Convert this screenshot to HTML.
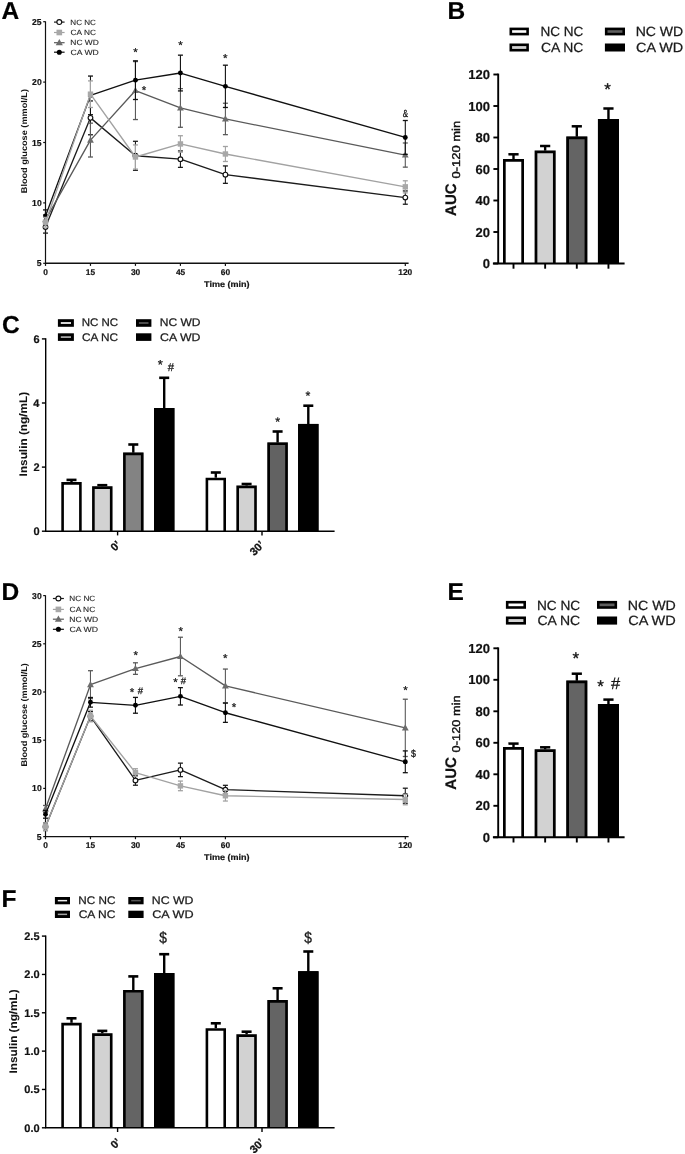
<!DOCTYPE html><html><head><meta charset="utf-8"><style>html,body{margin:0;padding:0;background:#fff;overflow:hidden;}svg{display:block;will-change:transform;}text{text-rendering:geometricPrecision;font-family:"Liberation Sans", sans-serif;}</style></head><body>
<svg width="685" height="1154" viewBox="0 0 685 1154">
<rect x="0" y="0" width="685" height="1154" fill="#fff"/>
<text transform="translate(1.59 18.60)" font-size="24.5" font-weight="bold" fill="#000" stroke="#000" stroke-width="0.200">A</text>
<line x1="45.50" y1="21.40" x2="45.50" y2="263.30" stroke="#111" stroke-width="1.2"/>
<line x1="43.20" y1="263.30" x2="45.50" y2="263.30" stroke="#111" stroke-width="1.2"/>
<text transform="translate(36.76 266.35)" font-size="8.6" font-weight="bold" fill="#141414" stroke="#141414" stroke-width="0.200">5</text>
<line x1="43.20" y1="202.90" x2="45.50" y2="202.90" stroke="#111" stroke-width="1.2"/>
<text transform="translate(32.10 205.95)" font-size="8.6" font-weight="bold" fill="#141414" stroke="#141414" stroke-width="0.200">10</text>
<line x1="43.20" y1="142.50" x2="45.50" y2="142.50" stroke="#111" stroke-width="1.2"/>
<text transform="translate(31.99 145.55)" font-size="8.6" font-weight="bold" fill="#141414" stroke="#141414" stroke-width="0.200">15</text>
<line x1="43.20" y1="82.10" x2="45.50" y2="82.10" stroke="#111" stroke-width="1.2"/>
<text transform="translate(32.10 85.15)" font-size="8.6" font-weight="bold" fill="#141414" stroke="#141414" stroke-width="0.200">20</text>
<line x1="43.20" y1="21.70" x2="45.50" y2="21.70" stroke="#111" stroke-width="1.2"/>
<text transform="translate(31.99 24.75)" font-size="8.6" font-weight="bold" fill="#141414" stroke="#141414" stroke-width="0.200">25</text>
<line x1="45.00" y1="263.30" x2="408.60" y2="263.30" stroke="#111" stroke-width="1.4"/>
<line x1="45.50" y1="263.30" x2="45.50" y2="265.90" stroke="#111" stroke-width="1.2"/>
<text transform="translate(43.27 274.80)" font-size="8.4" font-weight="bold" fill="#141414" stroke="#141414" stroke-width="0.200">0</text>
<line x1="90.47" y1="263.30" x2="90.47" y2="265.90" stroke="#111" stroke-width="1.2"/>
<text transform="translate(85.77 274.80)" font-size="8.4" font-weight="bold" fill="#141414" stroke="#141414" stroke-width="0.200">15</text>
<line x1="135.45" y1="263.30" x2="135.45" y2="265.90" stroke="#111" stroke-width="1.2"/>
<text transform="translate(130.96 274.80)" font-size="8.4" font-weight="bold" fill="#141414" stroke="#141414" stroke-width="0.200">30</text>
<line x1="180.43" y1="263.30" x2="180.43" y2="265.90" stroke="#111" stroke-width="1.2"/>
<text transform="translate(175.92 274.80)" font-size="8.4" font-weight="bold" fill="#141414" stroke="#141414" stroke-width="0.200">45</text>
<line x1="225.40" y1="263.30" x2="225.40" y2="265.90" stroke="#111" stroke-width="1.2"/>
<text transform="translate(220.85 274.80)" font-size="8.4" font-weight="bold" fill="#141414" stroke="#141414" stroke-width="0.200">60</text>
<line x1="405.30" y1="263.30" x2="405.30" y2="265.90" stroke="#111" stroke-width="1.2"/>
<text transform="translate(398.30 274.80)" font-size="8.4" font-weight="bold" fill="#141414" stroke="#141414" stroke-width="0.200">120</text>
<text transform="translate(204.01 286.50) scale(1.0811 1)" font-size="8.4" font-weight="bold" fill="#141414" stroke="#141414" stroke-width="0.200">Time (min)</text>
<text transform="translate(26.80 192.60) rotate(-90) translate(-0.62 0) scale(1.0922 1)" font-size="8.4" font-weight="bold" fill="#141414">Blood glucose (mmol/L)</text>
<line x1="45.50" y1="221.02" x2="45.50" y2="233.10" stroke="#1c1c1c" stroke-width="1.1"/>
<line x1="43.00" y1="221.02" x2="48.00" y2="221.02" stroke="#1c1c1c" stroke-width="1.3"/>
<line x1="43.00" y1="233.10" x2="48.00" y2="233.10" stroke="#1c1c1c" stroke-width="1.3"/>
<line x1="90.47" y1="100.94" x2="90.47" y2="134.77" stroke="#1c1c1c" stroke-width="1.1"/>
<line x1="87.97" y1="100.94" x2="92.97" y2="100.94" stroke="#1c1c1c" stroke-width="1.3"/>
<line x1="87.97" y1="134.77" x2="92.97" y2="134.77" stroke="#1c1c1c" stroke-width="1.3"/>
<line x1="135.45" y1="141.29" x2="135.45" y2="170.28" stroke="#1c1c1c" stroke-width="1.1"/>
<line x1="132.95" y1="141.29" x2="137.95" y2="141.29" stroke="#1c1c1c" stroke-width="1.3"/>
<line x1="132.95" y1="170.28" x2="137.95" y2="170.28" stroke="#1c1c1c" stroke-width="1.3"/>
<line x1="180.43" y1="150.96" x2="180.43" y2="167.38" stroke="#1c1c1c" stroke-width="1.1"/>
<line x1="177.93" y1="150.96" x2="182.93" y2="150.96" stroke="#1c1c1c" stroke-width="1.3"/>
<line x1="177.93" y1="167.38" x2="182.93" y2="167.38" stroke="#1c1c1c" stroke-width="1.3"/>
<line x1="225.40" y1="165.94" x2="225.40" y2="183.33" stroke="#1c1c1c" stroke-width="1.1"/>
<line x1="222.90" y1="165.94" x2="227.90" y2="165.94" stroke="#1c1c1c" stroke-width="1.3"/>
<line x1="222.90" y1="183.33" x2="227.90" y2="183.33" stroke="#1c1c1c" stroke-width="1.3"/>
<line x1="405.30" y1="190.94" x2="405.30" y2="204.23" stroke="#1c1c1c" stroke-width="1.1"/>
<line x1="402.80" y1="190.94" x2="407.80" y2="190.94" stroke="#1c1c1c" stroke-width="1.3"/>
<line x1="402.80" y1="204.23" x2="407.80" y2="204.23" stroke="#1c1c1c" stroke-width="1.3"/>
<polyline points="45.50,227.06 90.47,117.86 135.45,155.79 180.43,159.17 225.40,174.63 405.30,197.58" fill="none" stroke="#1c1c1c" stroke-width="1.35" stroke-linejoin="round"/>
<circle cx="45.50" cy="227.06" r="2.35" fill="#fff" stroke="#111" stroke-width="1.15"/>
<circle cx="90.47" cy="117.86" r="2.35" fill="#fff" stroke="#111" stroke-width="1.15"/>
<circle cx="135.45" cy="155.79" r="2.35" fill="#fff" stroke="#111" stroke-width="1.15"/>
<circle cx="180.43" cy="159.17" r="2.35" fill="#fff" stroke="#111" stroke-width="1.15"/>
<circle cx="225.40" cy="174.63" r="2.35" fill="#fff" stroke="#111" stroke-width="1.15"/>
<circle cx="405.30" cy="197.58" r="2.35" fill="#fff" stroke="#111" stroke-width="1.15"/>
<line x1="45.50" y1="214.98" x2="45.50" y2="224.64" stroke="#5a5a5a" stroke-width="1.1"/>
<line x1="43.00" y1="214.98" x2="48.00" y2="214.98" stroke="#5a5a5a" stroke-width="1.3"/>
<line x1="43.00" y1="224.64" x2="48.00" y2="224.64" stroke="#5a5a5a" stroke-width="1.3"/>
<line x1="90.47" y1="123.17" x2="90.47" y2="157.00" stroke="#5a5a5a" stroke-width="1.1"/>
<line x1="87.97" y1="123.17" x2="92.97" y2="123.17" stroke="#5a5a5a" stroke-width="1.3"/>
<line x1="87.97" y1="157.00" x2="92.97" y2="157.00" stroke="#5a5a5a" stroke-width="1.3"/>
<line x1="135.45" y1="61.56" x2="135.45" y2="119.55" stroke="#5a5a5a" stroke-width="1.1"/>
<line x1="132.95" y1="61.56" x2="137.95" y2="61.56" stroke="#5a5a5a" stroke-width="1.3"/>
<line x1="132.95" y1="119.55" x2="137.95" y2="119.55" stroke="#5a5a5a" stroke-width="1.3"/>
<line x1="180.43" y1="88.62" x2="180.43" y2="127.28" stroke="#5a5a5a" stroke-width="1.1"/>
<line x1="177.93" y1="88.62" x2="182.93" y2="88.62" stroke="#5a5a5a" stroke-width="1.3"/>
<line x1="177.93" y1="127.28" x2="182.93" y2="127.28" stroke="#5a5a5a" stroke-width="1.3"/>
<line x1="225.40" y1="103.24" x2="225.40" y2="134.65" stroke="#5a5a5a" stroke-width="1.1"/>
<line x1="222.90" y1="103.24" x2="227.90" y2="103.24" stroke="#5a5a5a" stroke-width="1.3"/>
<line x1="222.90" y1="134.65" x2="227.90" y2="134.65" stroke="#5a5a5a" stroke-width="1.3"/>
<line x1="405.30" y1="142.98" x2="405.30" y2="167.14" stroke="#5a5a5a" stroke-width="1.1"/>
<line x1="402.80" y1="142.98" x2="407.80" y2="142.98" stroke="#5a5a5a" stroke-width="1.3"/>
<line x1="402.80" y1="167.14" x2="407.80" y2="167.14" stroke="#5a5a5a" stroke-width="1.3"/>
<polyline points="45.50,219.81 90.47,140.08 135.45,90.56 180.43,107.95 225.40,118.94 405.30,155.06" fill="none" stroke="#5a5a5a" stroke-width="1.35" stroke-linejoin="round"/>
<polygon points="45.50,216.24 48.90,222.36 42.10,222.36" fill="#6c6c6c"/>
<polygon points="90.47,136.51 93.88,142.63 87.07,142.63" fill="#6c6c6c"/>
<polygon points="135.45,86.99 138.85,93.11 132.05,93.11" fill="#6c6c6c"/>
<polygon points="180.43,104.38 183.83,110.50 177.03,110.50" fill="#6c6c6c"/>
<polygon points="225.40,115.37 228.80,121.49 222.00,121.49" fill="#6c6c6c"/>
<polygon points="405.30,151.49 408.70,157.61 401.90,157.61" fill="#6c6c6c"/>
<line x1="45.50" y1="209.91" x2="45.50" y2="221.99" stroke="#111111" stroke-width="1.1"/>
<line x1="43.00" y1="209.91" x2="48.00" y2="209.91" stroke="#111111" stroke-width="1.3"/>
<line x1="43.00" y1="221.99" x2="48.00" y2="221.99" stroke="#111111" stroke-width="1.3"/>
<line x1="90.47" y1="76.06" x2="90.47" y2="114.72" stroke="#111111" stroke-width="1.1"/>
<line x1="87.97" y1="76.06" x2="92.97" y2="76.06" stroke="#111111" stroke-width="1.3"/>
<line x1="87.97" y1="114.72" x2="92.97" y2="114.72" stroke="#111111" stroke-width="1.3"/>
<line x1="135.45" y1="60.84" x2="135.45" y2="99.50" stroke="#111111" stroke-width="1.1"/>
<line x1="132.95" y1="60.84" x2="137.95" y2="60.84" stroke="#111111" stroke-width="1.3"/>
<line x1="132.95" y1="99.50" x2="137.95" y2="99.50" stroke="#111111" stroke-width="1.3"/>
<line x1="180.43" y1="55.16" x2="180.43" y2="90.92" stroke="#111111" stroke-width="1.1"/>
<line x1="177.93" y1="55.16" x2="182.93" y2="55.16" stroke="#111111" stroke-width="1.3"/>
<line x1="177.93" y1="90.92" x2="182.93" y2="90.92" stroke="#111111" stroke-width="1.3"/>
<line x1="225.40" y1="65.19" x2="225.40" y2="107.47" stroke="#111111" stroke-width="1.1"/>
<line x1="222.90" y1="65.19" x2="227.90" y2="65.19" stroke="#111111" stroke-width="1.3"/>
<line x1="222.90" y1="107.47" x2="227.90" y2="107.47" stroke="#111111" stroke-width="1.3"/>
<line x1="405.30" y1="120.51" x2="405.30" y2="154.34" stroke="#111111" stroke-width="1.1"/>
<line x1="402.80" y1="120.51" x2="407.80" y2="120.51" stroke="#111111" stroke-width="1.3"/>
<line x1="402.80" y1="154.34" x2="407.80" y2="154.34" stroke="#111111" stroke-width="1.3"/>
<polyline points="45.50,215.95 90.47,95.39 135.45,80.17 180.43,73.04 225.40,86.33 405.30,137.43" fill="none" stroke="#111111" stroke-width="1.35" stroke-linejoin="round"/>
<circle cx="45.50" cy="215.95" r="2.45" fill="#000"/>
<circle cx="90.47" cy="95.39" r="2.45" fill="#000"/>
<circle cx="135.45" cy="80.17" r="2.45" fill="#000"/>
<circle cx="180.43" cy="73.04" r="2.45" fill="#000"/>
<circle cx="225.40" cy="86.33" r="2.45" fill="#000"/>
<circle cx="405.30" cy="137.43" r="2.45" fill="#000"/>
<line x1="45.50" y1="217.40" x2="45.50" y2="227.06" stroke="#a2a2a2" stroke-width="1.1"/>
<line x1="43.00" y1="217.40" x2="48.00" y2="217.40" stroke="#a2a2a2" stroke-width="1.3"/>
<line x1="43.00" y1="227.06" x2="48.00" y2="227.06" stroke="#a2a2a2" stroke-width="1.3"/>
<line x1="90.47" y1="80.89" x2="90.47" y2="107.47" stroke="#a2a2a2" stroke-width="1.1"/>
<line x1="87.97" y1="80.89" x2="92.97" y2="80.89" stroke="#a2a2a2" stroke-width="1.3"/>
<line x1="87.97" y1="107.47" x2="92.97" y2="107.47" stroke="#a2a2a2" stroke-width="1.3"/>
<line x1="135.45" y1="144.92" x2="135.45" y2="169.08" stroke="#a2a2a2" stroke-width="1.1"/>
<line x1="132.95" y1="144.92" x2="137.95" y2="144.92" stroke="#a2a2a2" stroke-width="1.3"/>
<line x1="132.95" y1="169.08" x2="137.95" y2="169.08" stroke="#a2a2a2" stroke-width="1.3"/>
<line x1="180.43" y1="135.74" x2="180.43" y2="152.16" stroke="#a2a2a2" stroke-width="1.1"/>
<line x1="177.93" y1="135.74" x2="182.93" y2="135.74" stroke="#a2a2a2" stroke-width="1.3"/>
<line x1="177.93" y1="152.16" x2="182.93" y2="152.16" stroke="#a2a2a2" stroke-width="1.3"/>
<line x1="225.40" y1="146.49" x2="225.40" y2="161.47" stroke="#a2a2a2" stroke-width="1.1"/>
<line x1="222.90" y1="146.49" x2="227.90" y2="146.49" stroke="#a2a2a2" stroke-width="1.3"/>
<line x1="222.90" y1="161.47" x2="227.90" y2="161.47" stroke="#a2a2a2" stroke-width="1.3"/>
<line x1="405.30" y1="180.79" x2="405.30" y2="192.87" stroke="#a2a2a2" stroke-width="1.1"/>
<line x1="402.80" y1="180.79" x2="407.80" y2="180.79" stroke="#a2a2a2" stroke-width="1.3"/>
<line x1="402.80" y1="192.87" x2="407.80" y2="192.87" stroke="#a2a2a2" stroke-width="1.3"/>
<polyline points="45.50,222.23 90.47,94.18 135.45,157.00 180.43,143.95 225.40,153.98 405.30,186.83" fill="none" stroke="#a2a2a2" stroke-width="1.35" stroke-linejoin="round"/>
<rect x="42.80" y="219.53" width="5.40" height="5.40" fill="#a8a8a8"/>
<rect x="87.77" y="91.48" width="5.40" height="5.40" fill="#a8a8a8"/>
<rect x="132.75" y="154.30" width="5.40" height="5.40" fill="#a8a8a8"/>
<rect x="177.73" y="141.25" width="5.40" height="5.40" fill="#a8a8a8"/>
<rect x="222.70" y="151.28" width="5.40" height="5.40" fill="#a8a8a8"/>
<rect x="402.60" y="184.13" width="5.40" height="5.40" fill="#a8a8a8"/>
<line x1="54.00" y1="22.10" x2="64.60" y2="22.10" stroke="#1c1c1c" stroke-width="1.2"/>
<circle cx="59.30" cy="22.10" r="2.44" fill="#fff" stroke="#111" stroke-width="1.15"/>
<text transform="translate(70.33 24.60) scale(1.0630 1)" font-size="7.6" font-weight="normal" fill="#262626" stroke="#262626" stroke-width="0.120">NC NC</text>
<line x1="54.00" y1="32.50" x2="64.60" y2="32.50" stroke="#a2a2a2" stroke-width="1.2"/>
<rect x="56.49" y="29.69" width="5.62" height="5.62" fill="#a8a8a8"/>
<text transform="translate(70.59 35.00) scale(1.0908 1)" font-size="7.6" font-weight="normal" fill="#262626" stroke="#262626" stroke-width="0.120">CA NC</text>
<line x1="54.00" y1="42.70" x2="64.60" y2="42.70" stroke="#5a5a5a" stroke-width="1.2"/>
<polygon points="59.30,38.99 62.84,45.35 55.76,45.35" fill="#6c6c6c"/>
<text transform="translate(70.31 45.20) scale(1.1068 1)" font-size="7.6" font-weight="normal" fill="#262626" stroke="#262626" stroke-width="0.120">NC WD</text>
<line x1="54.00" y1="52.20" x2="64.60" y2="52.20" stroke="#111111" stroke-width="1.2"/>
<circle cx="59.30" cy="52.20" r="2.55" fill="#000"/>
<text transform="translate(70.57 54.70) scale(1.1337 1)" font-size="7.6" font-weight="normal" fill="#262626" stroke="#262626" stroke-width="0.120">CA WD</text>
<text transform="translate(133.26 55.79)" font-size="11.5" font-weight="normal" fill="#141414" stroke="#141414" stroke-width="0.230">*</text>
<text transform="translate(178.36 48.79)" font-size="11.5" font-weight="normal" fill="#141414" stroke="#141414" stroke-width="0.230">*</text>
<text transform="translate(222.96 62.49)" font-size="11.5" font-weight="normal" fill="#141414" stroke="#141414" stroke-width="0.230">*</text>
<text transform="translate(141.76 93.79)" font-size="11.5" font-weight="normal" fill="#141414" stroke="#141414" stroke-width="0.230">*</text>
<text transform="translate(402.67 116.50) scale(0.7630 1)" font-size="10.4" font-weight="normal" fill="#141414" stroke="#141414" stroke-width="0.328">&amp;</text>
<text transform="translate(447.55 18.60)" font-size="24.5" font-weight="bold" fill="#000" stroke="#000" stroke-width="0.200">B</text>
<rect x="510.80" y="28.90" width="16.80" height="5.20" fill="#ffffff" stroke="#000" stroke-width="2.6"/>
<text transform="translate(540.48 35.80) scale(1.0122 1)" font-size="13.4" font-weight="normal" fill="#1a1a1a" stroke="#1a1a1a" stroke-width="0.250">NC NC</text>
<rect x="510.80" y="44.80" width="16.80" height="5.40" fill="#d2d2d2" stroke="#000" stroke-width="2.6"/>
<text transform="translate(540.90 51.80) scale(1.0386 1)" font-size="13.4" font-weight="normal" fill="#1a1a1a" stroke="#1a1a1a" stroke-width="0.250">CA NC</text>
<rect x="606.20" y="28.90" width="17.50" height="5.20" fill="#5e5e5e" stroke="#000" stroke-width="2.6"/>
<text transform="translate(635.64 35.80) scale(1.0492 1)" font-size="13.4" font-weight="normal" fill="#1a1a1a" stroke="#1a1a1a" stroke-width="0.250">NC WD</text>
<rect x="606.20" y="44.80" width="17.50" height="5.40" fill="#000000" stroke="#000" stroke-width="2.6"/>
<text transform="translate(636.08 51.80) scale(1.0748 1)" font-size="13.4" font-weight="normal" fill="#1a1a1a" stroke="#1a1a1a" stroke-width="0.250">CA WD</text>
<line x1="498.20" y1="73.60" x2="498.20" y2="263.50" stroke="#000" stroke-width="1.9"/>
<line x1="493.40" y1="263.50" x2="498.20" y2="263.50" stroke="#000" stroke-width="1.9"/>
<text transform="translate(482.70 268.10)" font-size="13.0" font-weight="bold" fill="#111" stroke="#111" stroke-width="0.200">0</text>
<line x1="493.40" y1="232.00" x2="498.20" y2="232.00" stroke="#000" stroke-width="1.9"/>
<text transform="translate(475.49 236.60)" font-size="13.0" font-weight="bold" fill="#111" stroke="#111" stroke-width="0.200">20</text>
<line x1="493.40" y1="200.50" x2="498.20" y2="200.50" stroke="#000" stroke-width="1.9"/>
<text transform="translate(475.49 205.10)" font-size="13.0" font-weight="bold" fill="#111" stroke="#111" stroke-width="0.200">40</text>
<line x1="493.40" y1="169.00" x2="498.20" y2="169.00" stroke="#000" stroke-width="1.9"/>
<text transform="translate(475.49 173.60)" font-size="13.0" font-weight="bold" fill="#111" stroke="#111" stroke-width="0.200">60</text>
<line x1="493.40" y1="137.50" x2="498.20" y2="137.50" stroke="#000" stroke-width="1.9"/>
<text transform="translate(475.49 142.10)" font-size="13.0" font-weight="bold" fill="#111" stroke="#111" stroke-width="0.200">80</text>
<line x1="493.40" y1="106.00" x2="498.20" y2="106.00" stroke="#000" stroke-width="1.9"/>
<text transform="translate(468.24 110.60)" font-size="13.0" font-weight="bold" fill="#111" stroke="#111" stroke-width="0.200">100</text>
<line x1="493.40" y1="74.50" x2="498.20" y2="74.50" stroke="#000" stroke-width="1.9"/>
<text transform="translate(468.24 79.10)" font-size="13.0" font-weight="bold" fill="#111" stroke="#111" stroke-width="0.200">120</text>
<line x1="513.50" y1="263.50" x2="513.50" y2="268.70" stroke="#000" stroke-width="1.9"/>
<line x1="513.50" y1="160.00" x2="513.50" y2="154.30" stroke="#000" stroke-width="2.4"/>
<line x1="508.40" y1="154.30" x2="518.60" y2="154.30" stroke="#000" stroke-width="2.5"/>
<rect x="503.00" y="159.00" width="21.00" height="104.50" fill="#ffffff"/>
<path d="M504.35 263.50V160.35H522.65V263.50" fill="none" stroke="#000" stroke-width="2.7" stroke-linejoin="miter"/>
<line x1="545.15" y1="263.50" x2="545.15" y2="268.70" stroke="#000" stroke-width="1.9"/>
<line x1="545.15" y1="151.60" x2="545.15" y2="146.00" stroke="#000" stroke-width="2.4"/>
<line x1="540.05" y1="146.00" x2="550.25" y2="146.00" stroke="#000" stroke-width="2.5"/>
<rect x="534.65" y="150.60" width="21.00" height="112.90" fill="#d2d2d2"/>
<path d="M536.00 263.50V151.95H554.30V263.50" fill="none" stroke="#000" stroke-width="2.7" stroke-linejoin="miter"/>
<line x1="576.80" y1="263.50" x2="576.80" y2="268.70" stroke="#000" stroke-width="1.9"/>
<line x1="576.80" y1="137.50" x2="576.80" y2="126.30" stroke="#000" stroke-width="2.4"/>
<line x1="571.70" y1="126.30" x2="581.90" y2="126.30" stroke="#000" stroke-width="2.5"/>
<rect x="566.30" y="136.50" width="21.00" height="127.00" fill="#646464"/>
<path d="M567.65 263.50V137.85H585.95V263.50" fill="none" stroke="#000" stroke-width="2.7" stroke-linejoin="miter"/>
<line x1="608.45" y1="263.50" x2="608.45" y2="268.70" stroke="#000" stroke-width="1.9"/>
<line x1="608.45" y1="120.05" x2="608.45" y2="108.50" stroke="#000" stroke-width="2.4"/>
<line x1="603.35" y1="108.50" x2="613.55" y2="108.50" stroke="#000" stroke-width="2.5"/>
<rect x="597.95" y="119.05" width="21.00" height="144.45" fill="#000000"/>
<path d="M599.30 263.50V120.40H617.60V263.50" fill="none" stroke="#000" stroke-width="2.7" stroke-linejoin="miter"/>
<line x1="492.90" y1="263.50" x2="624.60" y2="263.50" stroke="#000" stroke-width="2.0"/>
<text transform="translate(604.28 95.41)" font-size="17" font-weight="normal" fill="#141414" stroke="#141414" stroke-width="0.340">*</text>
<text transform="translate(456.10 215.50) rotate(-90) translate(-0.38 0) scale(0.9827 1)" font-size="15.3" font-weight="bold" fill="#111" stroke="#111" stroke-width="0.204">AUC</text>
<text transform="translate(459.80 177.90) rotate(-90) translate(-0.52 0) scale(1.1460 1)" font-size="11.3" font-weight="normal" fill="#111" stroke="#111" stroke-width="0.400">0-120 min</text>
<text transform="translate(1.92 333.40)" font-size="24.5" font-weight="bold" fill="#000" stroke="#000" stroke-width="0.200">C</text>
<rect x="59.35" y="320.65" width="13.10" height="4.70" fill="#f0f0f0" stroke="#000" stroke-width="2.9"/>
<text transform="translate(81.65 326.40) scale(1.0449 1)" font-size="11.0" font-weight="normal" fill="#1a1a1a" stroke="#1a1a1a" stroke-width="0.250">NC NC</text>
<rect x="59.35" y="334.75" width="13.10" height="4.70" fill="#a4a4a4" stroke="#000" stroke-width="2.9"/>
<text transform="translate(82.01 340.70) scale(1.0722 1)" font-size="11.0" font-weight="normal" fill="#1a1a1a" stroke="#1a1a1a" stroke-width="0.250">CA NC</text>
<rect x="137.45" y="320.65" width="12.50" height="4.70" fill="#555555" stroke="#000" stroke-width="2.9"/>
<text transform="translate(159.71 326.40) scale(1.0940 1)" font-size="11.0" font-weight="normal" fill="#1a1a1a" stroke="#1a1a1a" stroke-width="0.250">NC WD</text>
<rect x="137.45" y="334.75" width="12.50" height="4.70" fill="#000000" stroke="#000" stroke-width="2.9"/>
<text transform="translate(160.08 340.70) scale(1.1206 1)" font-size="11.0" font-weight="normal" fill="#1a1a1a" stroke="#1a1a1a" stroke-width="0.250">CA WD</text>
<line x1="45.70" y1="338.20" x2="45.70" y2="531.20" stroke="#000" stroke-width="1.4"/>
<line x1="41.90" y1="531.20" x2="45.70" y2="531.20" stroke="#000" stroke-width="1.4"/>
<text transform="translate(33.54 535.10)" font-size="11.0" font-weight="bold" fill="#111" stroke="#111" stroke-width="0.200">0</text>
<line x1="41.90" y1="467.10" x2="45.70" y2="467.10" stroke="#000" stroke-width="1.4"/>
<text transform="translate(33.54 471.00)" font-size="11.0" font-weight="bold" fill="#111" stroke="#111" stroke-width="0.200">2</text>
<line x1="41.90" y1="403.00" x2="45.70" y2="403.00" stroke="#000" stroke-width="1.4"/>
<text transform="translate(33.15 406.90)" font-size="11.0" font-weight="bold" fill="#111" stroke="#111" stroke-width="0.200">4</text>
<line x1="41.90" y1="338.90" x2="45.70" y2="338.90" stroke="#000" stroke-width="1.4"/>
<text transform="translate(33.48 342.80)" font-size="11.0" font-weight="bold" fill="#111" stroke="#111" stroke-width="0.200">6</text>
<line x1="71.50" y1="483.10" x2="71.50" y2="479.90" stroke="#000" stroke-width="2.4"/>
<line x1="66.50" y1="479.90" x2="76.50" y2="479.90" stroke="#000" stroke-width="2.6"/>
<rect x="61.30" y="482.10" width="20.40" height="49.10" fill="#ffffff"/>
<path d="M62.60 531.20V483.40H80.40V531.20" fill="none" stroke="#000" stroke-width="2.6" stroke-linejoin="miter"/>
<line x1="102.30" y1="487.30" x2="102.30" y2="485.20" stroke="#000" stroke-width="2.4"/>
<line x1="97.30" y1="485.20" x2="107.30" y2="485.20" stroke="#000" stroke-width="2.6"/>
<rect x="92.10" y="486.30" width="20.40" height="44.90" fill="#d2d2d2"/>
<path d="M93.40 531.20V487.60H111.20V531.20" fill="none" stroke="#000" stroke-width="2.6" stroke-linejoin="miter"/>
<line x1="133.30" y1="453.60" x2="133.30" y2="444.50" stroke="#000" stroke-width="2.4"/>
<line x1="128.30" y1="444.50" x2="138.30" y2="444.50" stroke="#000" stroke-width="2.6"/>
<rect x="123.10" y="452.60" width="20.40" height="78.60" fill="#838383"/>
<path d="M124.40 531.20V453.90H142.20V531.20" fill="none" stroke="#000" stroke-width="2.6" stroke-linejoin="miter"/>
<line x1="164.20" y1="409.00" x2="164.20" y2="377.80" stroke="#000" stroke-width="2.4"/>
<line x1="159.20" y1="377.80" x2="169.20" y2="377.80" stroke="#000" stroke-width="2.6"/>
<rect x="154.00" y="408.00" width="20.40" height="123.20" fill="#000000"/>
<path d="M155.30 531.20V409.30H173.10V531.20" fill="none" stroke="#000" stroke-width="2.6" stroke-linejoin="miter"/>
<line x1="215.80" y1="478.70" x2="215.80" y2="472.50" stroke="#000" stroke-width="2.4"/>
<line x1="210.80" y1="472.50" x2="220.80" y2="472.50" stroke="#000" stroke-width="2.6"/>
<rect x="205.60" y="477.70" width="20.40" height="53.50" fill="#ffffff"/>
<path d="M206.90 531.20V479.00H224.70V531.20" fill="none" stroke="#000" stroke-width="2.6" stroke-linejoin="miter"/>
<line x1="246.60" y1="486.60" x2="246.60" y2="484.00" stroke="#000" stroke-width="2.4"/>
<line x1="241.60" y1="484.00" x2="251.60" y2="484.00" stroke="#000" stroke-width="2.6"/>
<rect x="236.40" y="485.60" width="20.40" height="45.60" fill="#d2d2d2"/>
<path d="M237.70 531.20V486.90H255.50V531.20" fill="none" stroke="#000" stroke-width="2.6" stroke-linejoin="miter"/>
<line x1="277.60" y1="443.40" x2="277.60" y2="431.50" stroke="#000" stroke-width="2.4"/>
<line x1="272.60" y1="431.50" x2="282.60" y2="431.50" stroke="#000" stroke-width="2.6"/>
<rect x="267.40" y="442.40" width="20.40" height="88.80" fill="#626262"/>
<path d="M268.70 531.20V443.70H286.50V531.20" fill="none" stroke="#000" stroke-width="2.6" stroke-linejoin="miter"/>
<line x1="308.30" y1="424.90" x2="308.30" y2="405.70" stroke="#000" stroke-width="2.4"/>
<line x1="303.30" y1="405.70" x2="313.30" y2="405.70" stroke="#000" stroke-width="2.6"/>
<rect x="298.10" y="423.90" width="20.40" height="107.30" fill="#000000"/>
<path d="M299.40 531.20V425.20H317.20V531.20" fill="none" stroke="#000" stroke-width="2.6" stroke-linejoin="miter"/>
<line x1="45.00" y1="531.20" x2="334.60" y2="531.20" stroke="#000" stroke-width="1.5"/>
<line x1="117.60" y1="531.20" x2="117.60" y2="535.40" stroke="#000" stroke-width="1.4"/>
<line x1="262.00" y1="531.20" x2="262.00" y2="535.40" stroke="#000" stroke-width="1.4"/>
<text transform="translate(157.77 368.86)" font-size="13" font-weight="normal" fill="#141414" stroke="#141414" stroke-width="0.260">*</text>
<text transform="translate(167.75 371.10)" font-size="11.3" font-weight="normal" fill="#141414" stroke="#141414" stroke-width="0.250">#</text>
<text transform="translate(275.16 426.01)" font-size="12.5" font-weight="normal" fill="#141414" stroke="#141414" stroke-width="0.250">*</text>
<text transform="translate(305.46 399.51)" font-size="12.5" font-weight="normal" fill="#141414" stroke="#141414" stroke-width="0.250">*</text>
<text transform="translate(26.60 475.60) rotate(-90) translate(-0.80 0) scale(1.0732 1)" font-size="11.0" font-weight="bold" fill="#111" stroke="#111" stroke-width="0.050">Insulin (ng/mL)</text>
<text transform="translate(115.02 551.73) rotate(-45)" font-size="11.0" font-weight="bold" fill="#111" stroke="#111" stroke-width="0.3">0’</text>
<text transform="translate(254.15 556.27) rotate(-45)" font-size="11.0" font-weight="bold" fill="#111" stroke="#111" stroke-width="0.3">30’</text>
<text transform="translate(1.45 599.50)" font-size="24.5" font-weight="bold" fill="#000" stroke="#000" stroke-width="0.200">D</text>
<line x1="45.50" y1="595.30" x2="45.50" y2="836.60" stroke="#111" stroke-width="1.2"/>
<line x1="43.20" y1="836.60" x2="45.50" y2="836.60" stroke="#111" stroke-width="1.2"/>
<text transform="translate(36.76 839.65)" font-size="8.6" font-weight="bold" fill="#141414" stroke="#141414" stroke-width="0.200">5</text>
<line x1="43.20" y1="788.40" x2="45.50" y2="788.40" stroke="#111" stroke-width="1.2"/>
<text transform="translate(32.10 791.45)" font-size="8.6" font-weight="bold" fill="#141414" stroke="#141414" stroke-width="0.200">10</text>
<line x1="43.20" y1="740.20" x2="45.50" y2="740.20" stroke="#111" stroke-width="1.2"/>
<text transform="translate(31.99 743.25)" font-size="8.6" font-weight="bold" fill="#141414" stroke="#141414" stroke-width="0.200">15</text>
<line x1="43.20" y1="692.00" x2="45.50" y2="692.00" stroke="#111" stroke-width="1.2"/>
<text transform="translate(32.10 695.05)" font-size="8.6" font-weight="bold" fill="#141414" stroke="#141414" stroke-width="0.200">20</text>
<line x1="43.20" y1="643.80" x2="45.50" y2="643.80" stroke="#111" stroke-width="1.2"/>
<text transform="translate(31.99 646.85)" font-size="8.6" font-weight="bold" fill="#141414" stroke="#141414" stroke-width="0.200">25</text>
<line x1="43.20" y1="595.60" x2="45.50" y2="595.60" stroke="#111" stroke-width="1.2"/>
<text transform="translate(32.10 598.65)" font-size="8.6" font-weight="bold" fill="#141414" stroke="#141414" stroke-width="0.200">30</text>
<line x1="45.00" y1="836.60" x2="408.60" y2="836.60" stroke="#111" stroke-width="1.4"/>
<line x1="45.50" y1="836.60" x2="45.50" y2="839.20" stroke="#111" stroke-width="1.2"/>
<text transform="translate(43.27 848.10)" font-size="8.4" font-weight="bold" fill="#141414" stroke="#141414" stroke-width="0.200">0</text>
<line x1="90.47" y1="836.60" x2="90.47" y2="839.20" stroke="#111" stroke-width="1.2"/>
<text transform="translate(85.77 848.10)" font-size="8.4" font-weight="bold" fill="#141414" stroke="#141414" stroke-width="0.200">15</text>
<line x1="135.45" y1="836.60" x2="135.45" y2="839.20" stroke="#111" stroke-width="1.2"/>
<text transform="translate(130.96 848.10)" font-size="8.4" font-weight="bold" fill="#141414" stroke="#141414" stroke-width="0.200">30</text>
<line x1="180.43" y1="836.60" x2="180.43" y2="839.20" stroke="#111" stroke-width="1.2"/>
<text transform="translate(175.92 848.10)" font-size="8.4" font-weight="bold" fill="#141414" stroke="#141414" stroke-width="0.200">45</text>
<line x1="225.40" y1="836.60" x2="225.40" y2="839.20" stroke="#111" stroke-width="1.2"/>
<text transform="translate(220.85 848.10)" font-size="8.4" font-weight="bold" fill="#141414" stroke="#141414" stroke-width="0.200">60</text>
<line x1="405.30" y1="836.60" x2="405.30" y2="839.20" stroke="#111" stroke-width="1.2"/>
<text transform="translate(398.30 848.10)" font-size="8.4" font-weight="bold" fill="#141414" stroke="#141414" stroke-width="0.200">120</text>
<text transform="translate(204.01 859.80) scale(1.0811 1)" font-size="8.4" font-weight="bold" fill="#141414" stroke="#141414" stroke-width="0.200">Time (min)</text>
<text transform="translate(27.00 765.90) rotate(-90) translate(-0.61 0) scale(1.0838 1)" font-size="8.4" font-weight="bold" fill="#141414">Blood glucose (mmol/L)</text>
<line x1="45.50" y1="822.81" x2="45.50" y2="830.53" stroke="#1c1c1c" stroke-width="1.1"/>
<line x1="43.00" y1="822.81" x2="48.00" y2="822.81" stroke="#1c1c1c" stroke-width="1.3"/>
<line x1="43.00" y1="830.53" x2="48.00" y2="830.53" stroke="#1c1c1c" stroke-width="1.3"/>
<line x1="90.47" y1="711.67" x2="90.47" y2="720.92" stroke="#1c1c1c" stroke-width="1.1"/>
<line x1="87.97" y1="711.67" x2="92.97" y2="711.67" stroke="#1c1c1c" stroke-width="1.3"/>
<line x1="87.97" y1="720.92" x2="92.97" y2="720.92" stroke="#1c1c1c" stroke-width="1.3"/>
<line x1="135.45" y1="775.58" x2="135.45" y2="785.22" stroke="#1c1c1c" stroke-width="1.1"/>
<line x1="132.95" y1="775.58" x2="137.95" y2="775.58" stroke="#1c1c1c" stroke-width="1.3"/>
<line x1="132.95" y1="785.22" x2="137.95" y2="785.22" stroke="#1c1c1c" stroke-width="1.3"/>
<line x1="180.43" y1="763.14" x2="180.43" y2="776.64" stroke="#1c1c1c" stroke-width="1.1"/>
<line x1="177.93" y1="763.14" x2="182.93" y2="763.14" stroke="#1c1c1c" stroke-width="1.3"/>
<line x1="177.93" y1="776.64" x2="182.93" y2="776.64" stroke="#1c1c1c" stroke-width="1.3"/>
<line x1="225.40" y1="785.32" x2="225.40" y2="793.99" stroke="#1c1c1c" stroke-width="1.1"/>
<line x1="222.90" y1="785.32" x2="227.90" y2="785.32" stroke="#1c1c1c" stroke-width="1.3"/>
<line x1="222.90" y1="793.99" x2="227.90" y2="793.99" stroke="#1c1c1c" stroke-width="1.3"/>
<line x1="405.30" y1="788.21" x2="405.30" y2="803.25" stroke="#1c1c1c" stroke-width="1.1"/>
<line x1="402.80" y1="788.21" x2="407.80" y2="788.21" stroke="#1c1c1c" stroke-width="1.3"/>
<line x1="402.80" y1="803.25" x2="407.80" y2="803.25" stroke="#1c1c1c" stroke-width="1.3"/>
<polyline points="45.50,826.67 90.47,716.29 135.45,780.40 180.43,769.89 225.40,789.65 405.30,795.73" fill="none" stroke="#1c1c1c" stroke-width="1.35" stroke-linejoin="round"/>
<circle cx="45.50" cy="826.67" r="2.35" fill="#fff" stroke="#111" stroke-width="1.15"/>
<circle cx="90.47" cy="716.29" r="2.35" fill="#fff" stroke="#111" stroke-width="1.15"/>
<circle cx="135.45" cy="780.40" r="2.35" fill="#fff" stroke="#111" stroke-width="1.15"/>
<circle cx="180.43" cy="769.89" r="2.35" fill="#fff" stroke="#111" stroke-width="1.15"/>
<circle cx="225.40" cy="789.65" r="2.35" fill="#fff" stroke="#111" stroke-width="1.15"/>
<circle cx="405.30" cy="795.73" r="2.35" fill="#fff" stroke="#111" stroke-width="1.15"/>
<line x1="45.50" y1="805.46" x2="45.50" y2="812.21" stroke="#5a5a5a" stroke-width="1.1"/>
<line x1="43.00" y1="805.46" x2="48.00" y2="805.46" stroke="#5a5a5a" stroke-width="1.3"/>
<line x1="43.00" y1="812.21" x2="48.00" y2="812.21" stroke="#5a5a5a" stroke-width="1.3"/>
<line x1="90.47" y1="670.70" x2="90.47" y2="698.65" stroke="#5a5a5a" stroke-width="1.1"/>
<line x1="87.97" y1="670.70" x2="92.97" y2="670.70" stroke="#5a5a5a" stroke-width="1.3"/>
<line x1="87.97" y1="698.65" x2="92.97" y2="698.65" stroke="#5a5a5a" stroke-width="1.3"/>
<line x1="135.45" y1="662.79" x2="135.45" y2="674.36" stroke="#5a5a5a" stroke-width="1.1"/>
<line x1="132.95" y1="662.79" x2="137.95" y2="662.79" stroke="#5a5a5a" stroke-width="1.3"/>
<line x1="132.95" y1="674.36" x2="137.95" y2="674.36" stroke="#5a5a5a" stroke-width="1.3"/>
<line x1="180.43" y1="637.24" x2="180.43" y2="675.80" stroke="#5a5a5a" stroke-width="1.1"/>
<line x1="177.93" y1="637.24" x2="182.93" y2="637.24" stroke="#5a5a5a" stroke-width="1.3"/>
<line x1="177.93" y1="675.80" x2="182.93" y2="675.80" stroke="#5a5a5a" stroke-width="1.3"/>
<line x1="225.40" y1="669.06" x2="225.40" y2="702.80" stroke="#5a5a5a" stroke-width="1.1"/>
<line x1="222.90" y1="669.06" x2="227.90" y2="669.06" stroke="#5a5a5a" stroke-width="1.3"/>
<line x1="222.90" y1="702.80" x2="227.90" y2="702.80" stroke="#5a5a5a" stroke-width="1.3"/>
<line x1="405.30" y1="699.23" x2="405.30" y2="756.49" stroke="#5a5a5a" stroke-width="1.1"/>
<line x1="402.80" y1="699.23" x2="407.80" y2="699.23" stroke="#5a5a5a" stroke-width="1.3"/>
<line x1="402.80" y1="756.49" x2="407.80" y2="756.49" stroke="#5a5a5a" stroke-width="1.3"/>
<polyline points="45.50,808.84 90.47,684.67 135.45,668.57 180.43,656.52 225.40,685.93 405.30,727.86" fill="none" stroke="#5a5a5a" stroke-width="1.35" stroke-linejoin="round"/>
<polygon points="45.50,805.27 48.90,811.39 42.10,811.39" fill="#6c6c6c"/>
<polygon points="90.47,681.10 93.88,687.22 87.07,687.22" fill="#6c6c6c"/>
<polygon points="135.45,665.00 138.85,671.12 132.05,671.12" fill="#6c6c6c"/>
<polygon points="180.43,652.95 183.83,659.07 177.03,659.07" fill="#6c6c6c"/>
<polygon points="225.40,682.36 228.80,688.48 222.00,688.48" fill="#6c6c6c"/>
<polygon points="405.30,724.29 408.70,730.41 401.90,730.41" fill="#6c6c6c"/>
<line x1="45.50" y1="810.48" x2="45.50" y2="818.19" stroke="#111111" stroke-width="1.1"/>
<line x1="43.00" y1="810.48" x2="48.00" y2="810.48" stroke="#111111" stroke-width="1.3"/>
<line x1="43.00" y1="818.19" x2="48.00" y2="818.19" stroke="#111111" stroke-width="1.3"/>
<line x1="90.47" y1="697.49" x2="90.47" y2="707.13" stroke="#111111" stroke-width="1.1"/>
<line x1="87.97" y1="697.49" x2="92.97" y2="697.49" stroke="#111111" stroke-width="1.3"/>
<line x1="87.97" y1="707.13" x2="92.97" y2="707.13" stroke="#111111" stroke-width="1.3"/>
<line x1="135.45" y1="697.40" x2="135.45" y2="713.21" stroke="#111111" stroke-width="1.1"/>
<line x1="132.95" y1="697.40" x2="137.95" y2="697.40" stroke="#111111" stroke-width="1.3"/>
<line x1="132.95" y1="713.21" x2="137.95" y2="713.21" stroke="#111111" stroke-width="1.3"/>
<line x1="180.43" y1="687.66" x2="180.43" y2="705.01" stroke="#111111" stroke-width="1.1"/>
<line x1="177.93" y1="687.66" x2="182.93" y2="687.66" stroke="#111111" stroke-width="1.3"/>
<line x1="177.93" y1="705.01" x2="182.93" y2="705.01" stroke="#111111" stroke-width="1.3"/>
<line x1="225.40" y1="703.09" x2="225.40" y2="722.37" stroke="#111111" stroke-width="1.1"/>
<line x1="222.90" y1="703.09" x2="227.90" y2="703.09" stroke="#111111" stroke-width="1.3"/>
<line x1="222.90" y1="722.37" x2="227.90" y2="722.37" stroke="#111111" stroke-width="1.3"/>
<line x1="405.30" y1="750.90" x2="405.30" y2="772.69" stroke="#111111" stroke-width="1.1"/>
<line x1="402.80" y1="750.90" x2="407.80" y2="750.90" stroke="#111111" stroke-width="1.3"/>
<line x1="402.80" y1="772.69" x2="407.80" y2="772.69" stroke="#111111" stroke-width="1.3"/>
<polyline points="45.50,814.33 90.47,702.31 135.45,705.30 180.43,696.34 225.40,712.73 405.30,761.79" fill="none" stroke="#111111" stroke-width="1.35" stroke-linejoin="round"/>
<circle cx="45.50" cy="814.33" r="2.45" fill="#000"/>
<circle cx="90.47" cy="702.31" r="2.45" fill="#000"/>
<circle cx="135.45" cy="705.30" r="2.45" fill="#000"/>
<circle cx="180.43" cy="696.34" r="2.45" fill="#000"/>
<circle cx="225.40" cy="712.73" r="2.45" fill="#000"/>
<circle cx="405.30" cy="761.79" r="2.45" fill="#000"/>
<line x1="45.50" y1="822.81" x2="45.50" y2="830.53" stroke="#a2a2a2" stroke-width="1.1"/>
<line x1="43.00" y1="822.81" x2="48.00" y2="822.81" stroke="#a2a2a2" stroke-width="1.3"/>
<line x1="43.00" y1="830.53" x2="48.00" y2="830.53" stroke="#a2a2a2" stroke-width="1.3"/>
<line x1="90.47" y1="710.22" x2="90.47" y2="721.79" stroke="#a2a2a2" stroke-width="1.1"/>
<line x1="87.97" y1="710.22" x2="92.97" y2="710.22" stroke="#a2a2a2" stroke-width="1.3"/>
<line x1="87.97" y1="721.79" x2="92.97" y2="721.79" stroke="#a2a2a2" stroke-width="1.3"/>
<line x1="135.45" y1="768.73" x2="135.45" y2="776.45" stroke="#a2a2a2" stroke-width="1.1"/>
<line x1="132.95" y1="768.73" x2="137.95" y2="768.73" stroke="#a2a2a2" stroke-width="1.3"/>
<line x1="132.95" y1="776.45" x2="137.95" y2="776.45" stroke="#a2a2a2" stroke-width="1.3"/>
<line x1="180.43" y1="781.07" x2="180.43" y2="790.71" stroke="#a2a2a2" stroke-width="1.1"/>
<line x1="177.93" y1="781.07" x2="182.93" y2="781.07" stroke="#a2a2a2" stroke-width="1.3"/>
<line x1="177.93" y1="790.71" x2="182.93" y2="790.71" stroke="#a2a2a2" stroke-width="1.3"/>
<line x1="225.40" y1="790.42" x2="225.40" y2="801.03" stroke="#a2a2a2" stroke-width="1.1"/>
<line x1="222.90" y1="790.42" x2="227.90" y2="790.42" stroke="#a2a2a2" stroke-width="1.3"/>
<line x1="222.90" y1="801.03" x2="227.90" y2="801.03" stroke="#a2a2a2" stroke-width="1.3"/>
<line x1="405.30" y1="794.18" x2="405.30" y2="804.79" stroke="#a2a2a2" stroke-width="1.1"/>
<line x1="402.80" y1="794.18" x2="407.80" y2="794.18" stroke="#a2a2a2" stroke-width="1.3"/>
<line x1="402.80" y1="804.79" x2="407.80" y2="804.79" stroke="#a2a2a2" stroke-width="1.3"/>
<polyline points="45.50,826.67 90.47,716.00 135.45,772.59 180.43,785.89 225.40,795.73 405.30,799.49" fill="none" stroke="#a2a2a2" stroke-width="1.35" stroke-linejoin="round"/>
<rect x="42.80" y="823.97" width="5.40" height="5.40" fill="#a8a8a8"/>
<rect x="87.77" y="713.30" width="5.40" height="5.40" fill="#a8a8a8"/>
<rect x="132.75" y="769.89" width="5.40" height="5.40" fill="#a8a8a8"/>
<rect x="177.73" y="783.19" width="5.40" height="5.40" fill="#a8a8a8"/>
<rect x="222.70" y="793.03" width="5.40" height="5.40" fill="#a8a8a8"/>
<rect x="402.60" y="796.79" width="5.40" height="5.40" fill="#a8a8a8"/>
<line x1="52.90" y1="598.50" x2="63.90" y2="598.50" stroke="#1c1c1c" stroke-width="1.2"/>
<circle cx="58.40" cy="598.50" r="2.44" fill="#fff" stroke="#111" stroke-width="1.15"/>
<text transform="translate(69.33 601.00) scale(1.0760 1)" font-size="7.6" font-weight="normal" fill="#262626" stroke="#262626" stroke-width="0.120">NC NC</text>
<line x1="52.90" y1="609.40" x2="63.90" y2="609.40" stroke="#a2a2a2" stroke-width="1.2"/>
<rect x="55.59" y="606.59" width="5.62" height="5.62" fill="#a8a8a8"/>
<text transform="translate(69.58 611.60) scale(1.1041 1)" font-size="7.6" font-weight="normal" fill="#262626" stroke="#262626" stroke-width="0.120">CA NC</text>
<line x1="52.90" y1="619.20" x2="63.90" y2="619.20" stroke="#5a5a5a" stroke-width="1.2"/>
<polygon points="58.40,615.49 61.94,621.85 54.86,621.85" fill="#6c6c6c"/>
<text transform="translate(69.30 621.50) scale(1.1189 1)" font-size="7.6" font-weight="normal" fill="#262626" stroke="#262626" stroke-width="0.120">NC WD</text>
<line x1="52.90" y1="629.30" x2="63.90" y2="629.30" stroke="#111111" stroke-width="1.2"/>
<circle cx="58.40" cy="629.30" r="2.55" fill="#000"/>
<text transform="translate(69.56 631.60) scale(1.1461 1)" font-size="7.6" font-weight="normal" fill="#262626" stroke="#262626" stroke-width="0.120">CA WD</text>
<text transform="translate(133.56 659.39)" font-size="11.5" font-weight="normal" fill="#141414" stroke="#141414" stroke-width="0.230">*</text>
<text transform="translate(178.46 635.29)" font-size="11.5" font-weight="normal" fill="#141414" stroke="#141414" stroke-width="0.230">*</text>
<text transform="translate(223.06 662.49)" font-size="11.5" font-weight="normal" fill="#141414" stroke="#141414" stroke-width="0.230">*</text>
<text transform="translate(403.36 694.49)" font-size="11.5" font-weight="normal" fill="#141414" stroke="#141414" stroke-width="0.230">*</text>
<text transform="translate(129.76 695.59)" font-size="11.5" font-weight="normal" fill="#141414" stroke="#141414" stroke-width="0.230">*</text>
<text transform="translate(173.36 686.39)" font-size="11.5" font-weight="normal" fill="#141414" stroke="#141414" stroke-width="0.230">*</text>
<text transform="translate(231.66 710.89)" font-size="11.5" font-weight="normal" fill="#141414" stroke="#141414" stroke-width="0.230">*</text>
<text transform="translate(137.65 693.60)" font-size="9.5" font-weight="normal" fill="#141414" stroke="#141414" stroke-width="0.250">#</text>
<text transform="translate(180.75 684.40)" font-size="9.5" font-weight="normal" fill="#141414" stroke="#141414" stroke-width="0.250">#</text>
<text transform="translate(410.96 757.20) scale(0.8694 1)" font-size="10.2" font-weight="normal" fill="#141414" stroke="#141414" stroke-width="0.288">$</text>
<text transform="translate(447.55 599.50)" font-size="24.5" font-weight="bold" fill="#000" stroke="#000" stroke-width="0.200">E</text>
<rect x="507.20" y="602.20" width="17.50" height="5.30" fill="#ffffff" stroke="#000" stroke-width="2.6"/>
<text transform="translate(536.97 609.50) scale(1.0195 1)" font-size="13.4" font-weight="normal" fill="#1a1a1a" stroke="#1a1a1a" stroke-width="0.250">NC NC</text>
<rect x="507.20" y="617.80" width="17.50" height="5.50" fill="#d2d2d2" stroke="#000" stroke-width="2.6"/>
<text transform="translate(537.40 625.20) scale(1.0462 1)" font-size="13.4" font-weight="normal" fill="#1a1a1a" stroke="#1a1a1a" stroke-width="0.250">CA NC</text>
<rect x="598.30" y="602.20" width="17.50" height="5.30" fill="#5e5e5e" stroke="#000" stroke-width="2.6"/>
<text transform="translate(627.73 609.50) scale(1.0584 1)" font-size="13.4" font-weight="normal" fill="#1a1a1a" stroke="#1a1a1a" stroke-width="0.250">NC WD</text>
<rect x="598.30" y="617.80" width="17.50" height="5.50" fill="#000000" stroke="#000" stroke-width="2.6"/>
<text transform="translate(628.17 625.20) scale(1.0842 1)" font-size="13.4" font-weight="normal" fill="#1a1a1a" stroke="#1a1a1a" stroke-width="0.250">CA WD</text>
<line x1="498.20" y1="647.40" x2="498.20" y2="837.30" stroke="#000" stroke-width="1.9"/>
<line x1="493.40" y1="837.30" x2="498.20" y2="837.30" stroke="#000" stroke-width="1.9"/>
<text transform="translate(482.70 841.90)" font-size="13.0" font-weight="bold" fill="#111" stroke="#111" stroke-width="0.200">0</text>
<line x1="493.40" y1="805.80" x2="498.20" y2="805.80" stroke="#000" stroke-width="1.9"/>
<text transform="translate(475.49 810.40)" font-size="13.0" font-weight="bold" fill="#111" stroke="#111" stroke-width="0.200">20</text>
<line x1="493.40" y1="774.30" x2="498.20" y2="774.30" stroke="#000" stroke-width="1.9"/>
<text transform="translate(475.49 778.90)" font-size="13.0" font-weight="bold" fill="#111" stroke="#111" stroke-width="0.200">40</text>
<line x1="493.40" y1="742.80" x2="498.20" y2="742.80" stroke="#000" stroke-width="1.9"/>
<text transform="translate(475.49 747.40)" font-size="13.0" font-weight="bold" fill="#111" stroke="#111" stroke-width="0.200">60</text>
<line x1="493.40" y1="711.30" x2="498.20" y2="711.30" stroke="#000" stroke-width="1.9"/>
<text transform="translate(475.49 715.90)" font-size="13.0" font-weight="bold" fill="#111" stroke="#111" stroke-width="0.200">80</text>
<line x1="493.40" y1="679.80" x2="498.20" y2="679.80" stroke="#000" stroke-width="1.9"/>
<text transform="translate(468.24 684.40)" font-size="13.0" font-weight="bold" fill="#111" stroke="#111" stroke-width="0.200">100</text>
<line x1="493.40" y1="648.30" x2="498.20" y2="648.30" stroke="#000" stroke-width="1.9"/>
<text transform="translate(468.24 652.90)" font-size="13.0" font-weight="bold" fill="#111" stroke="#111" stroke-width="0.200">120</text>
<line x1="513.50" y1="837.30" x2="513.50" y2="842.50" stroke="#000" stroke-width="1.9"/>
<line x1="513.50" y1="748.00" x2="513.50" y2="743.60" stroke="#000" stroke-width="2.4"/>
<line x1="508.40" y1="743.60" x2="518.60" y2="743.60" stroke="#000" stroke-width="2.5"/>
<rect x="503.00" y="747.00" width="21.00" height="90.30" fill="#ffffff"/>
<path d="M504.35 837.30V748.35H522.65V837.30" fill="none" stroke="#000" stroke-width="2.7" stroke-linejoin="miter"/>
<line x1="545.15" y1="837.30" x2="545.15" y2="842.50" stroke="#000" stroke-width="1.9"/>
<line x1="545.15" y1="750.30" x2="545.15" y2="747.30" stroke="#000" stroke-width="2.4"/>
<line x1="540.05" y1="747.30" x2="550.25" y2="747.30" stroke="#000" stroke-width="2.5"/>
<rect x="534.65" y="749.30" width="21.00" height="88.00" fill="#d2d2d2"/>
<path d="M536.00 837.30V750.65H554.30V837.30" fill="none" stroke="#000" stroke-width="2.7" stroke-linejoin="miter"/>
<line x1="576.80" y1="837.30" x2="576.80" y2="842.50" stroke="#000" stroke-width="1.9"/>
<line x1="576.80" y1="681.60" x2="576.80" y2="673.70" stroke="#000" stroke-width="2.4"/>
<line x1="571.70" y1="673.70" x2="581.90" y2="673.70" stroke="#000" stroke-width="2.5"/>
<rect x="566.30" y="680.60" width="21.00" height="156.70" fill="#646464"/>
<path d="M567.65 837.30V681.95H585.95V837.30" fill="none" stroke="#000" stroke-width="2.7" stroke-linejoin="miter"/>
<line x1="608.45" y1="837.30" x2="608.45" y2="842.50" stroke="#000" stroke-width="1.9"/>
<line x1="608.45" y1="705.00" x2="608.45" y2="699.60" stroke="#000" stroke-width="2.4"/>
<line x1="603.35" y1="699.60" x2="613.55" y2="699.60" stroke="#000" stroke-width="2.5"/>
<rect x="597.95" y="704.00" width="21.00" height="133.30" fill="#000000"/>
<path d="M599.30 837.30V705.35H617.60V837.30" fill="none" stroke="#000" stroke-width="2.7" stroke-linejoin="miter"/>
<line x1="492.90" y1="837.30" x2="624.60" y2="837.30" stroke="#000" stroke-width="2.0"/>
<text transform="translate(572.38 663.71)" font-size="17" font-weight="normal" fill="#141414" stroke="#141414" stroke-width="0.340">*</text>
<text transform="translate(597.28 692.11)" font-size="17" font-weight="normal" fill="#141414" stroke="#141414" stroke-width="0.340">*</text>
<text transform="translate(610.90 689.40)" font-size="16.5" font-weight="normal" fill="#141414" stroke="#141414" stroke-width="0.250">#</text>
<text transform="translate(456.20 789.40) rotate(-90) translate(-0.38 0) scale(0.9889 1)" font-size="15.3" font-weight="bold" fill="#111" stroke="#111" stroke-width="0.202">AUC</text>
<text transform="translate(460.00 751.90) rotate(-90) translate(-0.51 0) scale(1.1358 1)" font-size="11.3" font-weight="normal" fill="#111" stroke="#111" stroke-width="0.400">0-120 min</text>
<text transform="translate(1.45 906.70)" font-size="24.5" font-weight="bold" fill="#000" stroke="#000" stroke-width="0.200">F</text>
<rect x="56.35" y="898.45" width="12.20" height="4.40" fill="#f0f0f0" stroke="#000" stroke-width="2.9"/>
<text transform="translate(78.34 904.00) scale(1.0628 1)" font-size="11.0" font-weight="normal" fill="#1a1a1a" stroke="#1a1a1a" stroke-width="0.250">NC NC</text>
<rect x="56.35" y="912.15" width="12.20" height="4.40" fill="#a4a4a4" stroke="#000" stroke-width="2.9"/>
<text transform="translate(78.70 917.50) scale(1.0906 1)" font-size="11.0" font-weight="normal" fill="#1a1a1a" stroke="#1a1a1a" stroke-width="0.250">CA NC</text>
<rect x="129.75" y="898.45" width="12.40" height="4.40" fill="#555555" stroke="#000" stroke-width="2.9"/>
<text transform="translate(151.78 904.00) scale(1.1191 1)" font-size="11.0" font-weight="normal" fill="#1a1a1a" stroke="#1a1a1a" stroke-width="0.250">NC WD</text>
<rect x="129.75" y="912.15" width="12.40" height="4.40" fill="#000000" stroke="#000" stroke-width="2.9"/>
<text transform="translate(152.17 917.50) scale(1.1464 1)" font-size="11.0" font-weight="normal" fill="#1a1a1a" stroke="#1a1a1a" stroke-width="0.250">CA WD</text>
<line x1="45.70" y1="935.40" x2="45.70" y2="1127.80" stroke="#000" stroke-width="1.4"/>
<line x1="41.90" y1="1127.80" x2="45.70" y2="1127.80" stroke="#000" stroke-width="1.4"/>
<text transform="translate(24.35 1131.70)" font-size="11.0" font-weight="bold" fill="#111" stroke="#111" stroke-width="0.200">0.0</text>
<line x1="41.90" y1="1089.46" x2="45.70" y2="1089.46" stroke="#000" stroke-width="1.4"/>
<text transform="translate(24.21 1093.36)" font-size="11.0" font-weight="bold" fill="#111" stroke="#111" stroke-width="0.200">0.5</text>
<line x1="41.90" y1="1051.12" x2="45.70" y2="1051.12" stroke="#000" stroke-width="1.4"/>
<text transform="translate(24.35 1055.02)" font-size="11.0" font-weight="bold" fill="#111" stroke="#111" stroke-width="0.200">1.0</text>
<line x1="41.90" y1="1012.78" x2="45.70" y2="1012.78" stroke="#000" stroke-width="1.4"/>
<text transform="translate(24.21 1016.68)" font-size="11.0" font-weight="bold" fill="#111" stroke="#111" stroke-width="0.200">1.5</text>
<line x1="41.90" y1="974.44" x2="45.70" y2="974.44" stroke="#000" stroke-width="1.4"/>
<text transform="translate(24.35 978.34)" font-size="11.0" font-weight="bold" fill="#111" stroke="#111" stroke-width="0.200">2.0</text>
<line x1="41.90" y1="936.10" x2="45.70" y2="936.10" stroke="#000" stroke-width="1.4"/>
<text transform="translate(24.21 940.00)" font-size="11.0" font-weight="bold" fill="#111" stroke="#111" stroke-width="0.200">2.5</text>
<line x1="71.50" y1="1023.80" x2="71.50" y2="1018.30" stroke="#000" stroke-width="2.4"/>
<line x1="66.50" y1="1018.30" x2="76.50" y2="1018.30" stroke="#000" stroke-width="2.6"/>
<rect x="61.30" y="1022.80" width="20.40" height="105.00" fill="#ffffff"/>
<path d="M62.60 1127.80V1024.10H80.40V1127.80" fill="none" stroke="#000" stroke-width="2.6" stroke-linejoin="miter"/>
<line x1="102.30" y1="1034.30" x2="102.30" y2="1030.90" stroke="#000" stroke-width="2.4"/>
<line x1="97.30" y1="1030.90" x2="107.30" y2="1030.90" stroke="#000" stroke-width="2.6"/>
<rect x="92.10" y="1033.30" width="20.40" height="94.50" fill="#d2d2d2"/>
<path d="M93.40 1127.80V1034.60H111.20V1127.80" fill="none" stroke="#000" stroke-width="2.6" stroke-linejoin="miter"/>
<line x1="133.30" y1="991.00" x2="133.30" y2="976.40" stroke="#000" stroke-width="2.4"/>
<line x1="128.30" y1="976.40" x2="138.30" y2="976.40" stroke="#000" stroke-width="2.6"/>
<rect x="123.10" y="990.00" width="20.40" height="137.80" fill="#646464"/>
<path d="M124.40 1127.80V991.30H142.20V1127.80" fill="none" stroke="#000" stroke-width="2.6" stroke-linejoin="miter"/>
<line x1="164.20" y1="974.10" x2="164.20" y2="954.20" stroke="#000" stroke-width="2.4"/>
<line x1="159.20" y1="954.20" x2="169.20" y2="954.20" stroke="#000" stroke-width="2.6"/>
<rect x="154.00" y="973.10" width="20.40" height="154.70" fill="#000000"/>
<path d="M155.30 1127.80V974.40H173.10V1127.80" fill="none" stroke="#000" stroke-width="2.6" stroke-linejoin="miter"/>
<line x1="215.80" y1="1029.20" x2="215.80" y2="1023.30" stroke="#000" stroke-width="2.4"/>
<line x1="210.80" y1="1023.30" x2="220.80" y2="1023.30" stroke="#000" stroke-width="2.6"/>
<rect x="205.60" y="1028.20" width="20.40" height="99.60" fill="#ffffff"/>
<path d="M206.90 1127.80V1029.50H224.70V1127.80" fill="none" stroke="#000" stroke-width="2.6" stroke-linejoin="miter"/>
<line x1="246.60" y1="1035.30" x2="246.60" y2="1031.70" stroke="#000" stroke-width="2.4"/>
<line x1="241.60" y1="1031.70" x2="251.60" y2="1031.70" stroke="#000" stroke-width="2.6"/>
<rect x="236.40" y="1034.30" width="20.40" height="93.50" fill="#d2d2d2"/>
<path d="M237.70 1127.80V1035.60H255.50V1127.80" fill="none" stroke="#000" stroke-width="2.6" stroke-linejoin="miter"/>
<line x1="277.60" y1="1001.10" x2="277.60" y2="988.30" stroke="#000" stroke-width="2.4"/>
<line x1="272.60" y1="988.30" x2="282.60" y2="988.30" stroke="#000" stroke-width="2.6"/>
<rect x="267.40" y="1000.10" width="20.40" height="127.70" fill="#646464"/>
<path d="M268.70 1127.80V1001.40H286.50V1127.80" fill="none" stroke="#000" stroke-width="2.6" stroke-linejoin="miter"/>
<line x1="308.30" y1="972.20" x2="308.30" y2="951.50" stroke="#000" stroke-width="2.4"/>
<line x1="303.30" y1="951.50" x2="313.30" y2="951.50" stroke="#000" stroke-width="2.6"/>
<rect x="298.10" y="971.20" width="20.40" height="156.60" fill="#000000"/>
<path d="M299.40 1127.80V972.50H317.20V1127.80" fill="none" stroke="#000" stroke-width="2.6" stroke-linejoin="miter"/>
<line x1="45.00" y1="1127.80" x2="334.60" y2="1127.80" stroke="#000" stroke-width="1.5"/>
<line x1="117.60" y1="1127.80" x2="117.60" y2="1132.00" stroke="#000" stroke-width="1.4"/>
<line x1="262.00" y1="1127.80" x2="262.00" y2="1132.00" stroke="#000" stroke-width="1.4"/>
<text transform="translate(159.31 943.40) scale(0.8608 1)" font-size="16.0" font-weight="normal" fill="#141414" stroke="#141414" stroke-width="0.290">$</text>
<text transform="translate(304.21 943.30) scale(0.8608 1)" font-size="16.0" font-weight="normal" fill="#141414" stroke="#141414" stroke-width="0.290">$</text>
<text transform="translate(16.80 1072.70) rotate(-90) translate(-0.79 0) scale(1.0668 1)" font-size="11.0" font-weight="bold" fill="#111" stroke="#111" stroke-width="0.050">Insulin (ng/mL)</text>
<text transform="translate(115.02 1149.33) rotate(-45)" font-size="11.0" font-weight="bold" fill="#111" stroke="#111" stroke-width="0.3">0’</text>
<text transform="translate(254.15 1153.97) rotate(-45)" font-size="11.0" font-weight="bold" fill="#111" stroke="#111" stroke-width="0.3">30’</text>
</svg></body></html>
